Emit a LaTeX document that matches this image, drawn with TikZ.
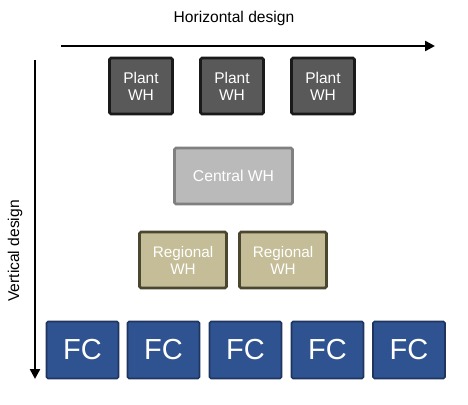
\documentclass[tikz,border=0pt]{standalone}
\usepackage{fontspec}
\setmainfont{Liberation Sans}
\usetikzlibrary{arrows.meta}
\definecolor{plantfill}{HTML}{595959}
\definecolor{plantdraw}{HTML}{1A1A1A}
\definecolor{centralfill}{HTML}{BABABA}
\definecolor{centraldraw}{HTML}{808080}
\definecolor{regfill}{HTML}{C4BD97}
\definecolor{regdraw}{HTML}{4A4630}
\definecolor{fcfill}{HTML}{2F5290}
\definecolor{fcdraw}{HTML}{1F3560}
\tikzset{
  wh/.style={rectangle, rounded corners=1.5pt, line width=2.6pt, text=white, align=center, inner sep=0pt, minimum height=56pt},
  plantbox/.style={wh, fill=plantfill, draw=plantdraw, minimum width=63pt, font=\fontsize{15.5}{17}\selectfont},
  centralbox/.style={wh, fill=centralfill, draw=centraldraw, minimum width=118pt, font=\fontsize{15.7}{17}\selectfont},
  regbox/.style={wh, fill=regfill, draw=regdraw, minimum width=87pt, font=\fontsize{15.3}{17}\selectfont},
  fcbox/.style={wh, fill=fcfill, draw=fcdraw, line width=1.6pt, minimum width=72pt, minimum height=57pt, font=\fontsize{29}{30}\selectfont},
  axis/.style={line width=2.4pt, -{Triangle[length=10pt,width=10pt]}},
  axlabel/.style={font=\fontsize{15.6}{17}\selectfont}
}
\begin{document}
\begin{tikzpicture}[x=1pt,y=-1pt]
\useasboundingbox (0,0) rectangle (468,404);
\coordinate (hs) at (61,46);
\coordinate (he) at (435,46);
\coordinate (vs) at (35,60);
\coordinate (ve) at (35,379);
\draw[axis] (hs) -- (he);
\draw[axis] (vs) -- (ve);
\node[axlabel] (hl) at (234,18) {Horizontal design};
\node[axlabel, rotate=90] (vl) at (15,251) {Vertical design};
\node[plantbox] (p1) at (141,86) {Plant\\WH};
\node[plantbox] (p2) at (232,86) {Plant\\WH};
\node[plantbox] (p3) at (323,86) {Plant\\WH};
\node[centralbox] (c) at (233.5,176) {Central WH};
\node[regbox] (r1) at (183,260) {Regional\\WH};
\node[regbox] (r2) at (283,260) {Regional\\WH};
\node[fcbox] (f1) at (82.5,350) {FC};
\node[fcbox] (f2) at (163.5,350) {FC};
\node[fcbox] (f3) at (245.5,350) {FC};
\node[fcbox] (f4) at (327.5,350) {FC};
\node[fcbox] (f5) at (409,350) {FC};
\end{tikzpicture}
\end{document}
